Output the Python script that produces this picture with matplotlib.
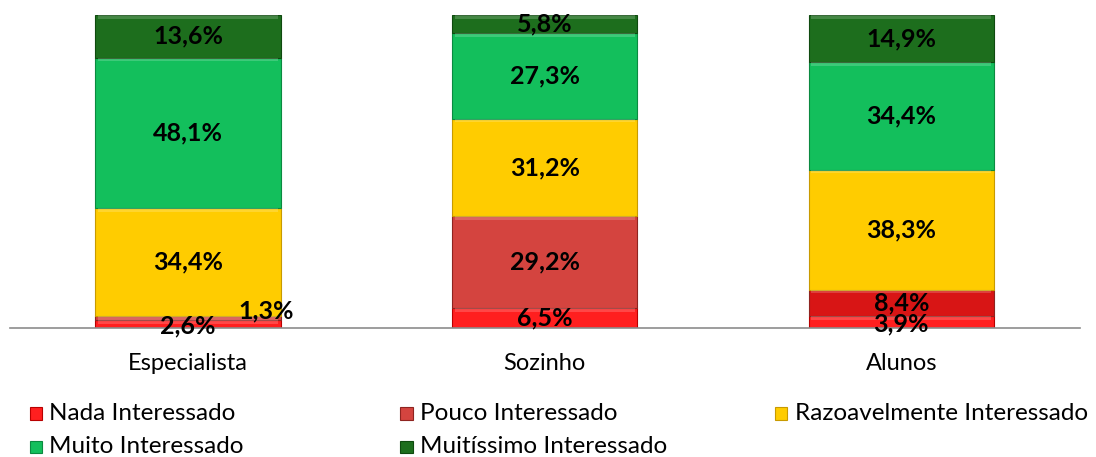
import matplotlib
matplotlib.use("Agg")
import matplotlib.pyplot as plt
from matplotlib.patches import Rectangle
import numpy as np

# --- data -------------------------------------------------------------------
categories = ["Especialista", "Sozinho", "Alunos"]
series = ["Nada Interessado", "Pouco Interessado", "Razoavelmente Interessado",
          "Muito Interessado", "Muitíssimo Interessado"]
nada = [2.6, 6.5, 3.9]
pouco = [1.3, 29.2, 8.4]
razo = [34.4, 31.2, 38.3]
muito = [48.1, 27.3, 34.4]
muitissimo = [13.6, 5.8, 14.9]

colors = ["#ff1f1f", "#d4443f", "#ffcc00", "#13bf5c", "#1d6e1d"]
edges = ["#b80000", "#8e2420", "#c89a00", "#0b8a40", "#0f4a0f"]
FONT = "Lato"

values = np.array([nada, pouco, razo, muito, muitissimo])

fig = plt.figure(figsize=(10.96, 4.57), dpi=100)
ax = fig.add_axes([0.009, 0.282, 0.976, 0.685])
x = np.arange(len(categories))
width = 0.52
bottom = np.zeros(len(categories))
for i, name in enumerate(series):
    cols = [colors[i]] * len(categories)
    if i == 1:
        cols[2] = "#d81515"   # Alunos segment drawn in a brighter red
    ax.bar(x, values[i], width, bottom=bottom, color=cols,
           edgecolor=edges[i], linewidth=0.8, zorder=2)
    # bevel highlight along the top of each segment
    ax.bar(x, np.minimum(values[i], 1.2), width * 0.97,
           bottom=bottom + values[i] - np.minimum(values[i], 1.2),
           color="white", alpha=0.18, linewidth=0, zorder=3)
    for j in range(len(categories)):
        v = values[i][j]
        yc = bottom[j] + v / 2
        xc = x[j]
        if categories[j] == "Especialista" and i == 1:
            xc, yc = x[j] + 0.22, bottom[j] + 2.8
        if categories[j] == "Especialista" and i == 0:
            yc = bottom[j] + 0.6
        if categories[j] == "Alunos" and i == 0:
            yc = bottom[j] + 1.4
        ax.text(xc, yc, f"{v:.1f}%".replace(".", ","), ha="center", va="center",
                fontsize=18, fontweight="bold", family=FONT, color="black", zorder=5)
    bottom += values[i]

ax.set_xlim(-0.5, 2.5)
ax.set_ylim(0, 100)
ax.set_yticks([])
ax.set_xticks(x)
ax.set_xticklabels(categories, fontsize=17, family=FONT)
ax.tick_params(axis="x", length=0, pad=18)
for s in ["top", "left", "right"]:
    ax.spines[s].set_visible(False)
ax.spines["bottom"].set_color("#8c8c8c")
ax.spines["bottom"].set_linewidth(1.2)
ax.spines["bottom"].set_zorder(4)

# --- legend (row-major, three columns) --------------------------------------
leg_x = [0.027, 0.365, 0.707]
leg_y = [0.094, 0.020]
for i, name in enumerate(series):
    r, c = divmod(i, 3)
    fx, fy = leg_x[c], leg_y[r]
    fig.patches.append(Rectangle((fx, fy - 0.012), 0.0115, 0.028, transform=fig.transFigure,
                                 facecolor=colors[i], edgecolor=edges[i], linewidth=0.8))
    fig.text(fx + 0.018, fy + 0.002, name, ha="left", va="center",
             fontsize=17.5, family=FONT, color="black")

fig.savefig("out.png", dpi=100)
